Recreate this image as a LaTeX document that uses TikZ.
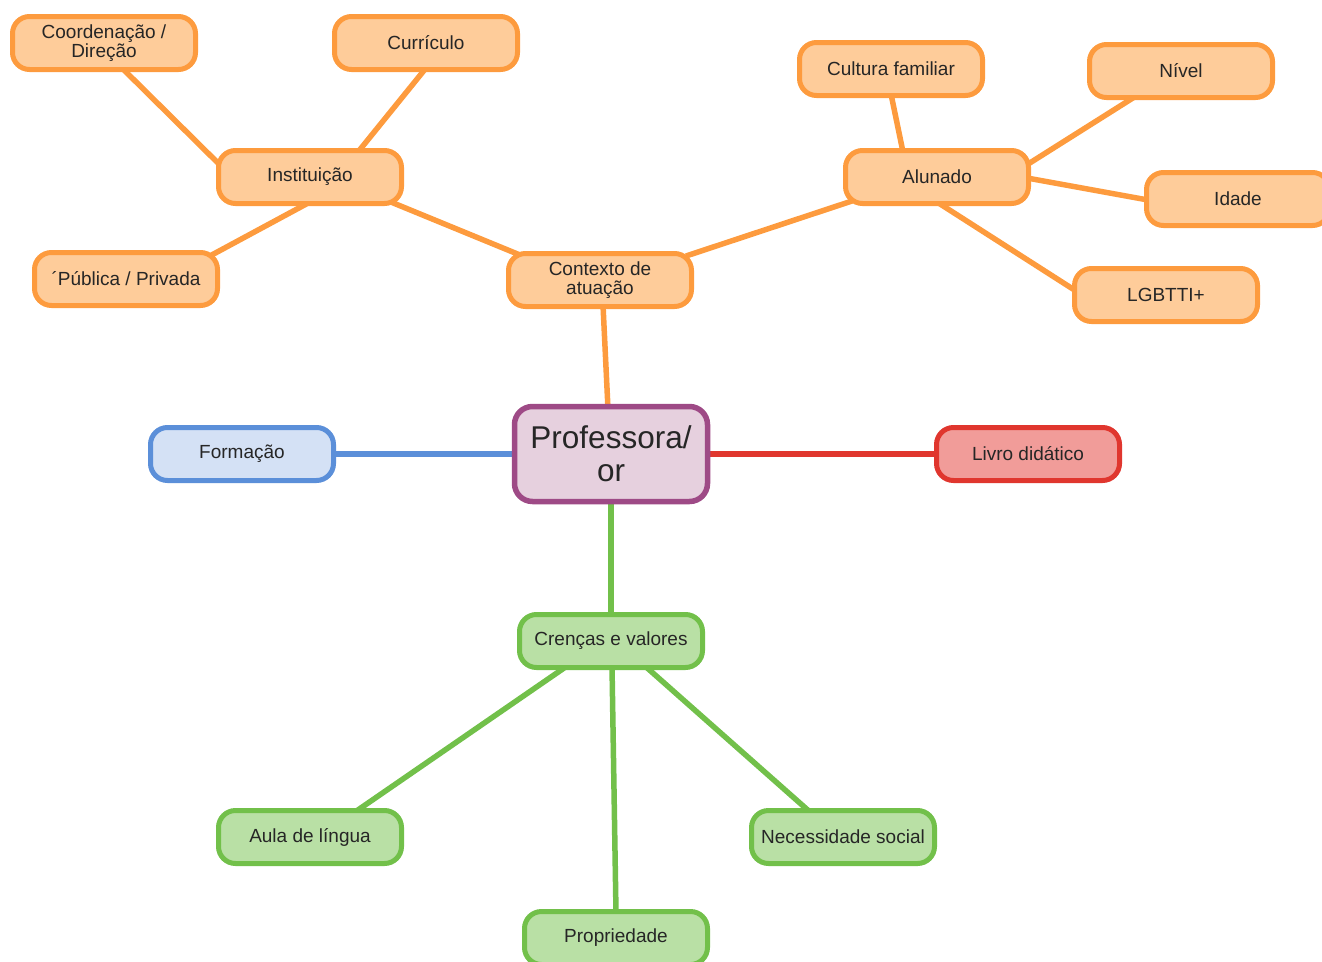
\documentclass[tikz,border=0pt]{standalone}
\usepackage{fontspec}
\setmainfont{Liberation Sans}
\usetikzlibrary{calc,backgrounds}
\definecolor{ofill}{HTML}{FECC9A}
\definecolor{odraw}{HTML}{FD9B3E}
\definecolor{pfill}{HTML}{E6D0DE}
\definecolor{pdraw}{HTML}{9E4A86}
\definecolor{bfill}{HTML}{D4E1F5}
\definecolor{bdraw}{HTML}{5B8FD9}
\definecolor{rfill}{HTML}{F19C99}
\definecolor{rdraw}{HTML}{E0362E}
\definecolor{gfill}{HTML}{B9E0A5}
\definecolor{gdraw}{HTML}{72C04A}
\definecolor{txt}{HTML}{262626}
\tikzset{
  box/.style={rectangle, rounded corners=17pt, line width=5pt, minimum width=183pt, minimum height=53pt, inner sep=2pt, align=center, text=txt, font=\fontsize{19}{19.5}\selectfont},
  obox/.style={box, draw=odraw, fill=ofill},
  gbox/.style={box, draw=gdraw, fill=gfill},
  olink/.style={draw=odraw, line width=5.5pt},
  glink/.style={draw=gdraw, line width=5.5pt},
}
\begin{document}
\begin{tikzpicture}[x=1pt,y=-1pt]
\useasboundingbox (0,0) rectangle (1322,961);
\clip (0,0) rectangle (1322,961);
\node[obox] (coord) at (104,43) {Coordenação /\\Direção};
\node[obox] (curr) at (426,43) {Currículo};
\node[obox] (inst) at (310,177) {Instituição};
\node[obox] (pub) at (126,279) {´Pública / Privada};
\node[obox] (cont) at (600,280) {Contexto de\\atuação};
\node[obox] (cult) at (891,69) {Cultura familiar};
\node[obox] (niv) at (1181,71) {Nível};
\node[obox] (alu) at (937,177) {Alunado};
\node[obox] (idade) at (1238,199) {Idade};
\node[obox] (lgb) at (1166,295) {LGBTTI+};
\node[box, draw=pdraw, fill=pfill, minimum width=193pt, minimum height=95pt, line width=5.5pt, rounded corners=18pt, font=\fontsize{31.5}{33}\selectfont] (prof) at (611,454) {Professora/\\or};
\node[box, draw=bdraw, fill=bfill] (form) at (242,454) {Formação};
\node[box, draw=rdraw, fill=rfill] (livro) at (1028,454) {Livro didático};
\node[gbox] (cren) at (611,641) {Crenças e valores};
\node[gbox] (aula) at (310,837) {Aula de língua};
\node[gbox] (nec) at (843,837) {Necessidade social};
\node[gbox] (prop) at (616,938) {Propriedade};
\begin{pgfonlayer}{background}
\draw[olink] ($(coord.center)+(18,25)$) -- ($(inst.center)+(-88,-10)$);
\draw[olink] ($(curr.center)+(0,25)$) -- ($(inst.center)+(48,-25)$);
\draw[olink] ($(inst.center)+(0,25)$) -- ($(pub.center)+(82,-22)$);
\draw[olink] ($(inst.center)+(76,23)$) -- ($(cont.center)+(-80,-25)$);
\draw[olink] ($(cont.center)+(86,-24)$) -- ($(alu.center)+(-85,24)$);
\draw[olink] ($(cult.center)+(0,25)$) -- ($(alu.center)+(-34,-25)$);
\draw[olink] ($(alu.center)+(88,-11)$) -- ($(niv.center)+(-45,25)$);
\draw[olink] ($(alu.center)+(90,1)$) -- ($(idade.center)+(-90,1)$);
\draw[olink] ($(alu.center)+(0,25)$) -- ($(lgb.center)+(-90,-4)$);
\draw[olink] ($(cont.center)+(3,25)$) -- ($(prof.center)+(-3,-45)$);
\draw[draw=bdraw, line width=5.5pt] (prof) -- (form);
\draw[draw=rdraw, line width=5.5pt] (prof) -- (livro);
\draw[glink] (prof) -- (cren);
\draw[glink] ($(cren.center)+(-44,25)$) -- ($(aula.center)+(45,-25)$);
\draw[glink] ($(cren.center)+(1,25)$) -- ($(prop.center)+(0,-25)$);
\draw[glink] ($(cren.center)+(34,25)$) -- ($(nec.center)+(-33,-25)$);
\end{pgfonlayer}
\end{tikzpicture}
\end{document}
